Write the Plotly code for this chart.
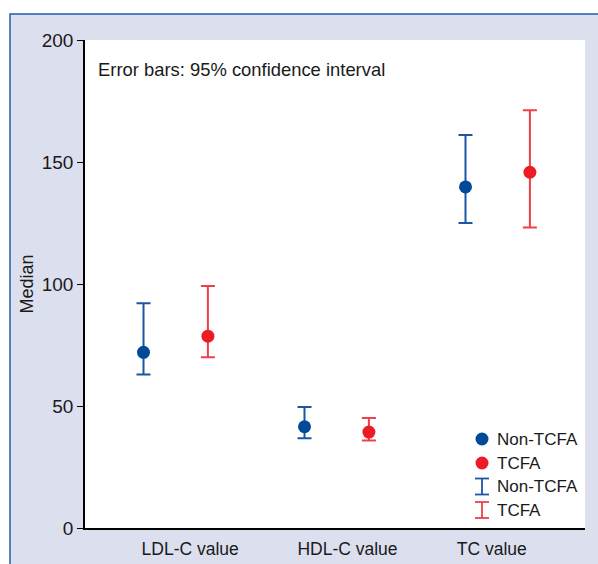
import numpy as np
import plotly.graph_objects as go

# ---- data ----
categories = ["LDL-C value", "HDL-C value", "TC value"]
series_names = ["Non-TCFA", "TCFA"]
non_median = [72.0, 41.5, 139.8]
non_upper = [92.1, 49.6, 161.1]
non_lower = [62.9, 36.8, 125.0]
tcfa_median = [78.6, 39.3, 145.8]
tcfa_upper = [99.2, 45.1, 171.2]
tcfa_lower = [70.0, 35.9, 123.2]
y_ticks = [0, 50, 100, 150, 200]
category_label_pos = [0.09, 1.067, 1.963]

# ---- styling ----
FONT = "Liberation Sans Narrow, Arial Narrow, Liberation Sans, Arial, sans-serif"
TXT = "#1a1a1a"
MARK_COLORS = ["#004a97", "#ed1c24"]
ERR_COLORS = ["#1a56a3", "#ef4049"]
LAVENDER = "#dcdfee"
FRAME_BLUE = "#1f5eab"

idx = np.arange(len(categories))
offsets = [-0.2, 0.2]
medians = [non_median, tcfa_median]
uppers = [non_upper, tcfa_upper]
lowers = [non_lower, tcfa_lower]

fig = go.Figure()
for k in range(2):
    med = np.array(medians[k])
    up = np.array(uppers[k])
    lo = np.array(lowers[k])
    fig.add_trace(go.Scatter(
        x=idx + offsets[k], y=med, mode="markers", name=series_names[k],
        showlegend=False,
        marker=dict(color=MARK_COLORS[k], size=13, line=dict(width=0)),
        error_y=dict(type="data", symmetric=False, array=up - med,
                     arrayminus=med - lo, color=ERR_COLORS[k],
                     thickness=2, width=7),
        hoverinfo="x+y",
    ))

# plot area geometry: x 85..585, y 40..528
L, R, T, B = 85, 13, 40, 36
W, H = 598 - L - R, 564 - T - B

def px_x(p):
    return (p - L) / W

def px_y(p):
    return (564 - B - p) / H

shapes = [
    # outer lavender panel with blue frame
    dict(type="rect", xref="paper", yref="paper", x0=px_x(10), x1=1.3,
         y0=-0.3, y1=px_y(14), fillcolor=LAVENDER,
         line=dict(color=FRAME_BLUE, width=1.5), layer="below"),
    # white plotting area
    dict(type="rect", xref="paper", yref="paper", x0=0, x1=1, y0=0, y1=1,
         fillcolor="white", line=dict(width=0), layer="below"),
]

annotations = [
    dict(text="Error bars: 95% confidence interval", xref="paper", yref="paper",
         x=px_x(96), y=px_y(69.5), xanchor="left", yanchor="middle",
         showarrow=False, font=dict(family=FONT, size=18.4, color=TXT)),
]

# manual legend (markers and error-bar glyphs)
leg_icon_x = px_x(482)
leg_text_x = px_x(495)
leg_y = [439, 463, 486.5, 510]
for i, yy in enumerate(leg_y):
    k = i % 2
    yc = px_y(yy)
    if i < 2:
        shapes.append(dict(type="circle", xref="paper", yref="paper",
                           xsizemode="pixel", ysizemode="pixel",
                           xanchor=leg_icon_x, yanchor=yc,
                           x0=-6.5, x1=6.5, y0=-6.5, y1=6.5,
                           fillcolor=MARK_COLORS[k], line=dict(width=0)))
    else:
        col = ERR_COLORS[k]
        for (x0, y0, x1, y1) in [(0, -8, 0, 8), (-7, 8, 7, 8), (-7, -8, 7, -8)]:
            shapes.append(dict(type="line", xref="paper", yref="paper",
                               xsizemode="pixel", ysizemode="pixel",
                               xanchor=leg_icon_x, yanchor=yc,
                               x0=x0, x1=x1, y0=y0, y1=y1,
                               line=dict(color=col, width=1.8)))
    annotations.append(dict(text=series_names[k], xref="paper", yref="paper",
                            x=leg_text_x, y=yc, xanchor="left", yanchor="middle",
                            showarrow=False,
                            font=dict(family=FONT, size=17, color=TXT)))

fig.update_layout(
    width=598, height=564,
    margin=dict(l=L, r=R, t=T, b=B, pad=0, autoexpand=False),
    paper_bgcolor="white",
    plot_bgcolor="rgba(0,0,0,0)",
    font=dict(family=FONT, size=18, color=TXT),
    showlegend=False,
    shapes=shapes,
    annotations=annotations,
    xaxis=dict(range=[(85 - 175.7) / 161, (585 - 175.7) / 161],
               tickmode="array", tickvals=category_label_pos, ticktext=categories,
               showgrid=False, zeroline=False, showline=True, linecolor="black",
               linewidth=1.5, ticks="", fixedrange=True, ticklabelstandoff=4,
               automargin=False,
               tickfont=dict(family=FONT, size=17.5, color=TXT)),
    yaxis=dict(range=[0, 200], tickmode="array", tickvals=y_ticks,
               showgrid=False, zeroline=False, showline=True, linecolor="black",
               linewidth=1.5, ticks="outside", ticklen=6, tickwidth=1.3,
               tickcolor="black", fixedrange=True, automargin=False,
               tickfont=dict(family=FONT, size=19, color=TXT),
               title=dict(text="Median", standoff=3,
                          font=dict(family=FONT, size=18, color=TXT))),
)

fig.write_html("out.html", config={"displayModeBar": False},
               post_script="document.body.style.margin='0';document.body.style.overflow='hidden';")
